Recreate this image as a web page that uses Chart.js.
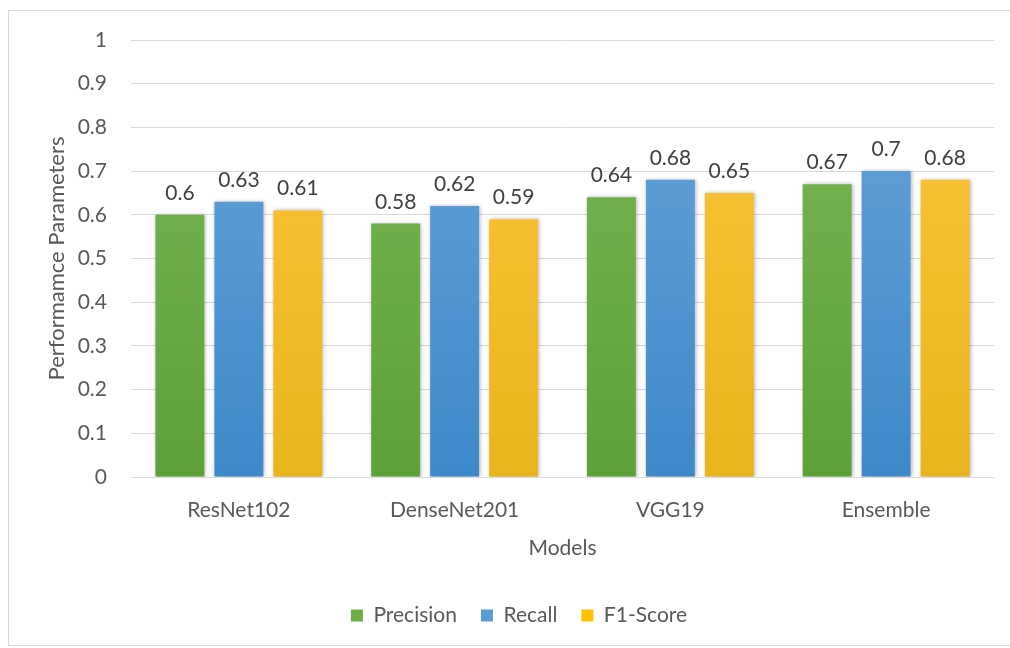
<!DOCTYPE html>
<html>
<head>
<meta charset="utf-8">
<script src="https://cdn.jsdelivr.net/npm/chart.js@4"></script>
<style>
  html, body { margin: 0; padding: 0; background: #ffffff; }
  #wrap { width: 1010px; height: 648px; position: relative; }
</style>
</head>
<body>
<div id="wrap"><canvas id="chart" width="1010" height="648"></canvas></div>
<script>
// Model names along the x axis
const models = ['ResNet102', 'DenseNet201', 'VGG19', 'Ensemble'];

// Metric values per model
const precision = [0.60, 0.58, 0.64, 0.67];
const recall    = [0.63, 0.62, 0.68, 0.70];
const f1Score   = [0.61, 0.59, 0.65, 0.68];

const seriesNames = ['Precision', 'Recall', 'F1-Score'];

// y axis range and step
const yMin = 0, yMax = 1, yStep = 0.1;

const FONT = "Lato, 'Open Sans', sans-serif";
const FS = 21;
const TEXT = '#595959';

// top / bottom colours of each bar gradient
const palette = [
  { top: '#7ab857', bottom: '#5da139', flat: '#70ad47' },
  { top: '#6aa5da', bottom: '#3e89c9', flat: '#5b9bd5' },
  { top: '#fec63e', bottom: '#e9b51c', flat: '#ffc000' }
];

function barGradient(idx) {
  return (ctx) => {
    const chart = ctx.chart;
    const area = chart.chartArea;
    if (!area) return palette[idx].flat;
    const g = chart.ctx.createLinearGradient(0, area.top, 0, area.bottom);
    g.addColorStop(0, palette[idx].top);
    g.addColorStop(1, palette[idx].bottom);
    return g;
  };
}

// frame around the whole chart
const framePlugin = {
  id: 'frame',
  beforeDraw(chart) {
    const c = chart.ctx;
    c.save();
    c.fillStyle = '#ffffff';
    c.fillRect(0, 0, chart.width, chart.height);
    c.strokeStyle = '#d9d9d9';
    c.lineWidth = 1;
    c.strokeRect(8.5, 10.5, chart.width, chart.height - 13);
    c.restore();
  }
};

// soft shadow behind the bars
const shadowPlugin = {
  id: 'barShadow',
  beforeDatasetsDraw(chart) {
    const c = chart.ctx;
    c.save();
    c.shadowColor = 'rgba(0,0,0,0.28)';
    c.shadowBlur = 4;
    c.shadowOffsetX = 1;
    c.shadowOffsetY = 0;
  },
  afterDatasetsDraw(chart) {
    chart.ctx.restore();
  }
};

// value labels above each bar
const valueLabels = {
  id: 'valueLabels',
  afterDatasetsDraw(chart) {
    const c = chart.ctx;
    c.save();
    c.font = FS + 'px ' + FONT;
    c.fillStyle = '#404040';
    c.textAlign = 'center';
    c.textBaseline = 'alphabetic';
    chart.data.datasets.forEach((ds, i) => {
      const meta = chart.getDatasetMeta(i);
      meta.data.forEach((bar, j) => {
        c.fillText(String(ds.data[j]), bar.x, bar.y - 15);
      });
    });
    c.restore();
  }
};

const data = {
  labels: models,
  datasets: [precision, recall, f1Score].map((vals, i) => ({
    label: seriesNames[i],
    data: vals,
    backgroundColor: barGradient(i),
    borderWidth: 0,
    categoryPercentage: 0.82,
    barPercentage: 0.83
  }))
};

new Chart(document.getElementById('chart'), {
  type: 'bar',
  data,
  plugins: [framePlugin, shadowPlugin, valueLabels],
  options: {
    responsive: false,
    animation: false,
    layout: { padding: { top: 40, right: 16, bottom: 12, left: 44 } },
    plugins: {
      tooltip: { enabled: false },
      legend: {
        position: 'bottom',
        labels: {
          font: { family: FONT, size: FS },
          color: TEXT,
          boxWidth: 12,
          boxHeight: 12,
          padding: 24,
          generateLabels(chart) {
            return chart.data.datasets.map((ds, i) => ({
              text: ds.label,
              fillStyle: palette[i].flat,
              strokeStyle: palette[i].flat,
              lineWidth: 0,
              fontColor: TEXT,
              datasetIndex: i,
              hidden: false
            }));
          }
        }
      }
    },
    scales: {
      x: {
        grid: { display: false, drawTicks: false },
        border: { display: true, color: '#d9d9d9', width: 1 },
        ticks: { font: { family: FONT, size: FS }, color: TEXT, padding: 21 },
        title: {
          display: true,
          text: 'Models',
          font: { family: FONT, size: FS },
          color: TEXT,
          padding: { top: 0, bottom: 20 }
        },
        afterFit(scale) { scale.height = 104; }
      },
      y: {
        min: yMin,
        max: yMax,
        grid: { color: '#d9d9d9', drawTicks: false },
        border: { display: false },
        ticks: {
          stepSize: yStep,
          font: { family: FONT, size: FS },
          color: TEXT,
          padding: 24,
          callback: (v) => Number(v.toFixed(1)).toString()
        },
        title: {
          display: true,
          text: 'Performamce Parameters',
          font: { family: FONT, size: 22 },
          color: TEXT,
          padding: { top: 0, bottom: 0 }
        },
        afterFit(scale) { scale.width = 87; }
      }
    }
  }
});
</script>
</body>
</html>
